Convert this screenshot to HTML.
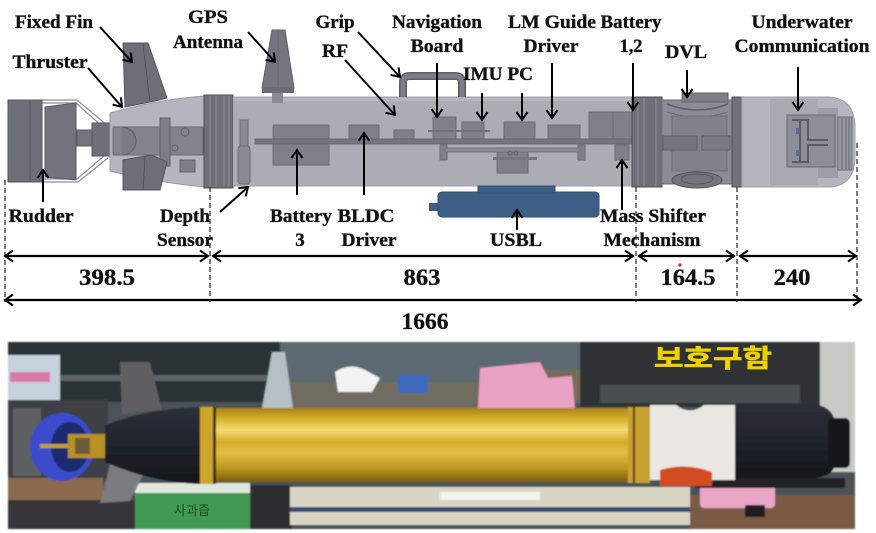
<!DOCTYPE html>
<html><head><meta charset="utf-8"><style>
html,body{margin:0;padding:0;background:#fff;}
svg{display:block;}
.t{font-family:"Liberation Serif",serif;font-weight:bold;font-size:19px;fill:#111;stroke:#111;stroke-width:0.35px;}
.n{font-family:"Liberation Serif",serif;font-weight:bold;font-size:23px;fill:#111;stroke:#111;stroke-width:0.3px;}
</style></head><body>
<svg width="876" height="533" viewBox="0 0 876 533" xmlns="http://www.w3.org/2000/svg">
<defs>
<marker id="a" markerWidth="12" markerHeight="14" refX="10" refY="7" orient="auto-start-reverse" markerUnits="userSpaceOnUse">
<path d="M2,1.5 L10,7 L2,12.5" fill="none" stroke="#000" stroke-width="2"/>
</marker>
<linearGradient id="gold" x1="0" y1="0" x2="0" y2="1">
<stop offset="0" stop-color="#a8820f"/>
<stop offset="0.15" stop-color="#d8b030"/>
<stop offset="0.3" stop-color="#f4dc70"/>
<stop offset="0.45" stop-color="#d6ac2a"/>
<stop offset="0.6" stop-color="#e2be44"/>
<stop offset="0.8" stop-color="#c09a22"/>
<stop offset="1" stop-color="#7a5c0c"/>
</linearGradient>
<linearGradient id="blk" x1="0" y1="0" x2="0" y2="1">
<stop offset="0" stop-color="#2c2f38"/>
<stop offset="0.4" stop-color="#22252d"/>
<stop offset="1" stop-color="#14161b"/>
</linearGradient>
<filter id="bl"><feGaussianBlur stdDeviation="0.9"/></filter>
</defs>

<!-- ============ CAD DRAWING ============ -->
<g fill="none" stroke="#8e8f97" stroke-width="1.2">
<path d="M42,100 H77 L108,126"/><path d="M42,103 H76 L104,128"/>
<path d="M42,182 H78 L108,158"/><path d="M42,179 H77 L104,156"/>
</g>
<rect x="8" y="100" width="34" height="82" fill="#6d6e77" stroke="#55565e"/>
<line x1="30" y1="101" x2="30" y2="181" stroke="#55565e"/>
<path d="M45,107 L76,103 L76,180 L45,177 Z" fill="#72737c" stroke="#5a5b63"/>
<rect x="77" y="130" width="18" height="16" fill="#74757e" stroke="#5a5b63"/>
<rect x="92" y="123" width="22" height="33" fill="#6f7079" stroke="#55565e"/>
<path d="M110,113 Q160,99 205,96 L205,187 Q160,183 110,171 Z" fill="#b5b6bd" stroke="#9a9ba3"/>
<rect x="113" y="127" width="90" height="28" fill="#83848d" stroke="#6a6b73"/>
<path d="M122,127 A14,14 0 0 1 122,155" fill="#7b7c85" stroke="#5f6068"/>
<rect x="160" y="118" width="10" height="48" fill="#7c7d86" stroke="#62636b"/>
<circle cx="185" cy="132" r="4" fill="none" stroke="#5f6068"/>
<circle cx="175" cy="148" r="3" fill="none" stroke="#5f6068"/>
<rect x="180" y="160" width="15" height="12" fill="#7c7d86" stroke="#62636b"/>
<path d="M123,43 L148,43 L167,98 L155,101 L125,107 Z" fill="#6d6e77" stroke="#54555d"/>
<line x1="143" y1="44" x2="150" y2="102" stroke="#54555d"/>
<path d="M123,160 L152,155 L167,162 L160,190 L123,190 Z" fill="#6d6e77" stroke="#54555d"/>
<line x1="145" y1="157" x2="143" y2="190" stroke="#54555d"/>
<rect x="204" y="95" width="29" height="93" fill="#6f7078" stroke="#4f5058"/>
<g stroke="#8d8e96" stroke-width="1"><line x1="210" y1="96" x2="210" y2="187"/><line x1="216" y1="96" x2="216" y2="187"/><line x1="224" y1="96" x2="224" y2="187"/><line x1="229" y1="96" x2="229" y2="187"/></g>
<rect x="233" y="97" width="400" height="89" fill="#acadb4"/>
<rect x="233" y="97" width="400" height="4" fill="#b6b7be"/>
<line x1="233" y1="97" x2="633" y2="97" stroke="#9fa0a8"/>
<line x1="233" y1="186" x2="633" y2="186" stroke="#9fa0a8"/>
<path d="M272,30 L285,30 L294,88 L262,88 Z" fill="#74757e" stroke="#5f6068"/>
<line x1="278" y1="31" x2="278" y2="88" stroke="#66676f"/>
<rect x="262" y="87" width="32" height="6" fill="#6a6b73"/>
<rect x="272" y="93" width="11" height="10" fill="#8a8b93"/>
<path d="M403,97 V82 Q403,76 410,76 H455 Q462,76 462,82 V97" fill="none" stroke="#5c5d65" stroke-width="8"/>
<path d="M403,97 V82 Q403,76 410,76 H455 Q462,76 462,82 V97" fill="none" stroke="#7c7d86" stroke-width="5"/>
<rect x="240" y="120" width="8" height="28" fill="#8a8b93" stroke="#6a6b73"/>
<rect x="238" y="146" width="12" height="38" rx="3" fill="#8a8b93" stroke="#6a6b73"/>
<g fill="#7f8089" stroke="#6a6b73">
<rect x="273" y="125" width="56" height="40"/>
<rect x="349" y="125" width="30" height="15"/>
<rect x="394" y="130" width="20" height="10"/>
<rect x="433" y="117" width="23" height="23"/>
<rect x="462" y="122" width="22" height="18"/>
<rect x="504" y="122" width="31" height="18"/>
<rect x="548" y="125" width="32" height="15"/>
<rect x="589" y="112" width="24" height="28"/>
<rect x="613" y="112" width="19" height="28"/>
<rect x="497" y="148" width="31" height="25"/>
<rect x="440" y="145" width="7" height="15"/>
<rect x="578" y="145" width="7" height="15"/>
<rect x="615" y="145" width="14" height="15"/>
</g>
<rect x="428" y="130" width="62" height="2" fill="#6f7078"/>
<rect x="255" y="139" width="377" height="5" fill="#74757e" stroke="#62636b" stroke-width="0.8"/>
<rect x="445" y="148" width="135" height="4" fill="#8a8b93" stroke="#6a6b73" stroke-width="0.8"/>
<rect x="493" y="157" width="44" height="3" fill="#74757e"/>
<circle cx="510" cy="153" r="2" fill="none" stroke="#5f6068"/>
<circle cx="516" cy="153" r="2" fill="none" stroke="#5f6068"/>
<rect x="429" y="203" width="10" height="8" fill="#3d5f86"/>
<rect x="438" y="192" width="161" height="25" rx="4" fill="#3d5f86" stroke="#2f4d70"/>
<rect x="478" y="186" width="77" height="7" fill="#3d5f86" stroke="#2f4d70"/>
<rect x="632" y="97" width="30" height="90" fill="#6e6f78" stroke="#4f5058"/>
<g stroke="#8d8e96"><line x1="638" y1="98" x2="638" y2="186"/><line x1="644" y1="98" x2="644" y2="186"/><line x1="656" y1="98" x2="656" y2="186"/></g>
<rect x="662" y="100" width="71" height="84" fill="#8b8c95" stroke="#6a6b73"/>
<rect x="682" y="93" width="46" height="9" fill="#7d7e87" stroke="#62636b"/>
<path d="M667,104 Q697,116 728,104" fill="none" stroke="#5f6068" stroke-width="1.5"/>
<path d="M667,112 Q697,122 728,112" fill="none" stroke="#6a6b73"/>
<rect x="672" y="116" width="55" height="55" fill="#80818a" stroke="#6f7078"/>
<rect x="663" y="136" width="34" height="14" fill="#74757e" stroke="#5f6068"/>
<rect x="702" y="136" width="28" height="14" fill="#7b7c85" stroke="#5f6068"/>
<ellipse cx="697" cy="180" rx="25" ry="8" fill="#73747d" stroke="#55565e"/>
<ellipse cx="697" cy="179" rx="16" ry="5" fill="none" stroke="#55565e"/>
<rect x="732" y="97" width="10" height="90" fill="#70717a" stroke="#4f5058"/>
<path d="M742,97 H830 Q855,99 855,128 V157 Q855,185 830,187 H742 Z" fill="#b5b6bd" stroke="#a0a1a9"/>
<rect x="770" y="99" width="48" height="86" fill="#a9aab1"/>
<rect x="818" y="108" width="20" height="70" fill="#9d9ea6"/>
<rect x="787" y="115" width="48" height="52" fill="#8d8e97" stroke="#6a6b73"/>
<path d="M792,120 H808 V140 H828 M792,162 H808 V145 H828 M800,120 V162" fill="none" stroke="#5a5b66" stroke-width="2"/>
<rect x="796" y="128" width="4" height="6" fill="#5a6a90"/>
<rect x="796" y="150" width="4" height="6" fill="#5a6a90"/>
<rect x="838" y="117" width="14" height="53" fill="#9a9ba3" stroke="#6a6b73"/>
<g stroke="#5f6068"><line x1="842" y1="118" x2="842" y2="169"/><line x1="846" y1="118" x2="846" y2="169"/><line x1="849" y1="118" x2="849" y2="169"/></g>

<g stroke="#333" stroke-width="1.3" stroke-dasharray="5,3">
<line x1="5" y1="180" x2="5" y2="302"/>
<line x1="210" y1="187" x2="210" y2="302"/>
<line x1="636" y1="187" x2="636" y2="302"/>
<line x1="737" y1="187" x2="737" y2="302"/>
<line x1="857" y1="143" x2="857" y2="302"/>
</g>

<g stroke="#000" stroke-width="2.2" fill="none" marker-start="url(#a)" marker-end="url(#a)">
<line x1="5" y1="256" x2="208" y2="256"/>
<line x1="213" y1="256" x2="633" y2="256"/>
<line x1="639" y1="256" x2="734" y2="256"/>
<line x1="740" y1="256" x2="856" y2="256"/>
<line x1="5" y1="300" x2="861" y2="300"/>
</g>
<circle cx="680" cy="265" r="1.6" fill="#e02020"/>
<text class="n" x="107" y="285" text-anchor="middle" textLength="56" lengthAdjust="spacingAndGlyphs">398.5</text>
<text class="n" x="422" y="285" text-anchor="middle" textLength="37" lengthAdjust="spacingAndGlyphs">863</text>
<text class="n" x="688" y="285" text-anchor="middle" textLength="55" lengthAdjust="spacingAndGlyphs">164.5</text>
<text class="n" x="792" y="285" text-anchor="middle" textLength="37" lengthAdjust="spacingAndGlyphs">240</text>
<text class="n" x="425" y="329" text-anchor="middle" textLength="47" lengthAdjust="spacingAndGlyphs">1666</text>

<g stroke="#000" stroke-width="2" fill="none" marker-end="url(#a)">
<line x1="100" y1="27" x2="132" y2="62"/>
<line x1="88" y1="68" x2="122" y2="107"/>
<line x1="248" y1="32" x2="275" y2="62"/>
<line x1="358" y1="32" x2="400" y2="77"/>
<line x1="345" y1="60" x2="395" y2="115"/>
<line x1="43" y1="202" x2="43" y2="170"/>
<line x1="220" y1="212" x2="248" y2="187"/>
<line x1="297" y1="195" x2="297" y2="150"/>
<line x1="364" y1="195" x2="364" y2="133"/>
<line x1="437" y1="63" x2="437" y2="117"/>
<line x1="482" y1="93" x2="482" y2="120"/>
<line x1="522" y1="93" x2="522" y2="120"/>
<line x1="552" y1="63" x2="552" y2="118"/>
<line x1="633" y1="63" x2="633" y2="110"/>
<line x1="687" y1="70" x2="687" y2="97"/>
<line x1="798" y1="67" x2="798" y2="110"/>
<line x1="622" y1="210" x2="622" y2="160"/>
<line x1="517" y1="230" x2="517" y2="210"/>
</g>

<text class="t" x="54" y="28" text-anchor="middle" textLength="78" lengthAdjust="spacingAndGlyphs">Fixed Fin</text>
<text class="t" x="50" y="68" text-anchor="middle" textLength="75" lengthAdjust="spacingAndGlyphs">Thruster</text>
<text class="t" x="208" y="23" text-anchor="middle" textLength="40" lengthAdjust="spacingAndGlyphs">GPS</text>
<text class="t" x="208" y="48" text-anchor="middle" textLength="70" lengthAdjust="spacingAndGlyphs">Antenna</text>
<text class="t" x="335" y="28" text-anchor="middle" textLength="39" lengthAdjust="spacingAndGlyphs">Grip</text>
<text class="t" x="335" y="57" text-anchor="middle" textLength="26" lengthAdjust="spacingAndGlyphs">RF</text>
<text class="t" x="437" y="28" text-anchor="middle" textLength="90" lengthAdjust="spacingAndGlyphs">Navigation</text>
<text class="t" x="437" y="52" text-anchor="middle" textLength="53" lengthAdjust="spacingAndGlyphs">Board</text>
<text class="t" x="498" y="80" text-anchor="middle" textLength="70" lengthAdjust="spacingAndGlyphs">IMU PC</text>
<text class="t" x="552" y="28" text-anchor="middle" textLength="88" lengthAdjust="spacingAndGlyphs">LM Guide</text>
<text class="t" x="551" y="52" text-anchor="middle" textLength="55" lengthAdjust="spacingAndGlyphs">Driver</text>
<text class="t" x="631" y="28" text-anchor="middle" textLength="61" lengthAdjust="spacingAndGlyphs">Battery</text>
<text class="t" x="631" y="52" text-anchor="middle" textLength="23" lengthAdjust="spacingAndGlyphs">1,2</text>
<text class="t" x="686" y="58" text-anchor="middle" textLength="42" lengthAdjust="spacingAndGlyphs">DVL</text>
<text class="t" x="802" y="28" text-anchor="middle" textLength="101" lengthAdjust="spacingAndGlyphs">Underwater</text>
<text class="t" x="802" y="52" text-anchor="middle" textLength="135" lengthAdjust="spacingAndGlyphs">Communication</text>
<text class="t" x="41" y="222" text-anchor="middle" textLength="65" lengthAdjust="spacingAndGlyphs">Rudder</text>
<text class="t" x="185" y="222" text-anchor="middle" textLength="50" lengthAdjust="spacingAndGlyphs">Depth</text>
<text class="t" x="185" y="246" text-anchor="middle" textLength="56" lengthAdjust="spacingAndGlyphs">Sensor</text>
<text class="t" x="301" y="222" text-anchor="middle" textLength="62" lengthAdjust="spacingAndGlyphs">Battery</text>
<text class="t" x="300" y="246" text-anchor="middle">3</text>
<text class="t" x="366" y="222" text-anchor="middle" textLength="57" lengthAdjust="spacingAndGlyphs">BLDC</text>
<text class="t" x="369" y="246" text-anchor="middle" textLength="55" lengthAdjust="spacingAndGlyphs">Driver</text>
<text class="t" x="516" y="246" text-anchor="middle" textLength="52" lengthAdjust="spacingAndGlyphs">USBL</text>
<text class="t" x="653" y="222" text-anchor="middle" textLength="106" lengthAdjust="spacingAndGlyphs">Mass Shifter</text>
<text class="t" x="652" y="246" text-anchor="middle" textLength="97" lengthAdjust="spacingAndGlyphs">Mechanism</text>

<!-- ============ PHOTO ============ -->
<g filter="url(#bl)">
<rect x="8" y="342" width="847" height="187" fill="#4a5258"/>
<rect x="8" y="342" width="275" height="60" fill="#2c3134"/>
<rect x="55" y="375" width="225" height="6" fill="#5e6265"/>
<rect x="280" y="342" width="300" height="62" fill="#5b6971"/>
<rect x="580" y="342" width="240" height="65" fill="#2d3236"/>
<rect x="820" y="342" width="35" height="130" fill="#c9c9c6"/>
<rect x="600" y="385" width="200" height="18" fill="#4a4f50"/>
<rect x="8" y="355" width="52" height="65" fill="#c6d2de"/>
<rect x="10" y="372" width="40" height="10" fill="#d87aa8"/>
<rect x="8" y="400" width="100" height="80" fill="#3c4044"/>
<rect x="290" y="382" width="210" height="26" fill="#6f6c5e"/>
<path d="M335,372 Q350,362 365,370 L380,378 L372,392 L338,392 Z" fill="#f2f2f2"/>
<rect x="398" y="375" width="30" height="18" fill="#3a6abf"/>
<rect x="540" y="370" width="40" height="30" fill="#7a6a58"/>
<path d="M480,368 L540,362 L548,378 L572,376 L575,408 L478,408 Z" fill="#eaa2c4"/>
<rect x="8" y="478" width="95" height="22" fill="#8b6a4d"/>
<rect x="8" y="500" width="130" height="29" fill="#35363a"/>
<rect x="135" y="483" width="115" height="46" fill="#3f9a52"/>
<rect x="135" y="483" width="115" height="10" fill="#dfe8df"/>
<rect x="250" y="485" width="42" height="44" fill="#2d2e31"/>
<rect x="290" y="487" width="400" height="38" fill="#d9d5c5"/>
<rect x="290" y="507" width="400" height="5" fill="#3b4a72"/>
<rect x="440" y="492" width="100" height="8" fill="#f4f4f2"/>
<rect x="690" y="495" width="165" height="34" fill="#7a5a45"/>
<rect x="700" y="480" width="75" height="28" rx="4" fill="#eaa6c6"/>
<rect x="695" y="478" width="150" height="10" fill="#222428"/>
<rect x="745" y="505" width="20" height="12" fill="#1e1e22"/>
<rect x="13" y="408" width="28" height="68" fill="#5d5e60"/>
<path d="M120,362 L150,362 L162,410 L122,414 Z" fill="#5e5f62"/>
<path d="M110,465 L148,465 L130,501 L100,503 Z" fill="#7c7c7e"/>
<path d="M272,352 L285,352 L293,408 L262,408 Z" fill="#b6bec6"/>
<ellipse cx="62" cy="447" rx="32" ry="34" fill="#3a4ccc"/>
<ellipse cx="70" cy="447" rx="19" ry="25" fill="#1f2a70"/>
<rect x="40" y="444" width="40" height="4" fill="#c8a030"/>
<rect x="68" y="434" width="57" height="24" fill="#b89222"/>
<rect x="75" y="438" width="15" height="16" fill="#6e5a3a"/>
<path d="M105,425 Q150,408 200,407 L200,484 Q150,482 105,462 Z" fill="url(#blk)"/>
<rect x="200" y="407" width="16" height="77" fill="#cda52a"/>
<rect x="213" y="407" width="3" height="77" fill="#3a2e10"/>
<rect x="216" y="408" width="414" height="74" fill="url(#gold)"/>
<rect x="628" y="407" width="22" height="76" fill="#c9a030"/>
<rect x="633" y="407" width="2" height="76" fill="#3a2e10"/>
<path d="M650,405 L676,405 Q690,416 704,405 L735,405 L735,480 L712,480 Q690,470 668,480 L650,480 Z" fill="#e9e7e1"/>
<path d="M660,470 Q685,462 712,472 L712,486 L660,486 Z" fill="#d24c22"/>
<path d="M735,404 H815 Q835,408 835,425 V462 Q835,476 815,478 H735 Z" fill="url(#blk)"/>
<rect x="828" y="418" width="22" height="50" rx="5" fill="#16181d"/>
</g>
<text x="713" y="367" text-anchor="middle" font-family="'Noto Sans CJK KR','NanumGothic',sans-serif" font-weight="bold" font-size="25" fill="#f0d000" stroke="#f0d000" stroke-width="0.6" textLength="118" lengthAdjust="spacingAndGlyphs">보호구함</text>
<text x="192" y="515" text-anchor="middle" font-family="'Noto Sans CJK KR','NanumGothic',sans-serif" font-size="13" fill="#1d4a25">사과즙</text>
</svg>
</body></html>
